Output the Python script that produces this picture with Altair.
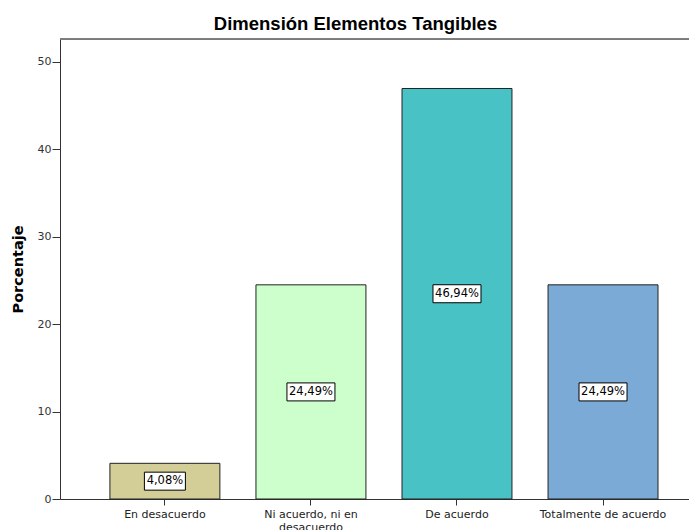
import altair as alt
import pandas as pd

categories = ["En desacuerdo", "Ni acuerdo, ni en desacuerdo", "De acuerdo", "Totalmente de acuerdo"]
values = [4.08, 24.49, 46.94, 24.49]
labels = ["4,08%", "24,49%", "46,94%", "24,49%"]
colors = ["#D3CE97", "#CCFFCC", "#48C2C5", "#7BAAD6"]
y_ticks = [0, 10, 20, 30, 40, 50]

df = pd.DataFrame({"cat": categories, "val": values, "lab": labels})

W, H = 629, 460
FONT = "DejaVu Sans"
TFONT = "Liberation Sans"

x_enc = alt.X(
    "cat:N",
    sort=categories,
    scale=alt.Scale(paddingInner=0.247, paddingOuter=0.277, align=0.617),
    axis=alt.Axis(
        title=None,
        labelAngle=0,
        labelFontSize=11,
        labelFont=FONT,
        labelColor="#222",
        labelPadding=3,
        labelLineHeight=13,
        labelExpr="datum.label == 'Ni acuerdo, ni en desacuerdo' ? ['Ni acuerdo, ni en', 'desacuerdo'] : datum.label",
        tickSize=6,
        tickColor="#333",
        domainColor="#333",
        labelOverlap=False,
    ),
)

y_scale = alt.Scale(domain=[0, 52.6], nice=False)

bars = alt.Chart(df).mark_bar(stroke="#222", strokeWidth=1).encode(
    x=x_enc,
    y=alt.Y(
        "val:Q",
        scale=y_scale,
        axis=alt.Axis(
            title="Porcentaje",
            values=y_ticks,
            grid=False,
            labelFontSize=11,
            labelFont=FONT,
            labelColor="#333",
            tickSize=8,
            tickColor="#333",
            domainColor="#333",
            labelPadding=1,
            titleFont=FONT,
            titleFontSize=14.5,
            titleFontWeight="bold",
            titleColor="#000",
            titlePadding=12,
        ),
    ),
    color=alt.Color("cat:N", scale=alt.Scale(domain=categories, range=colors), legend=None),
)

boxes = alt.Chart(df).transform_calculate(
    mid="datum.val / 2", bw="length(datum.lab) * 7 + 6"
).mark_tick(thickness=18, fill="white", stroke="black", strokeWidth=1, opacity=1).encode(
    x=alt.X("cat:N", sort=categories),
    y=alt.Y("mid:Q", scale=y_scale),
    size=alt.Size("bw:Q", scale=None),
)

texts = alt.Chart(df).transform_calculate(mid="datum.val / 2").mark_text(
    font=FONT, fontSize=11.5, color="black", baseline="middle", align="center"
).encode(
    x=alt.X("cat:N", sort=categories),
    y=alt.Y("mid:Q", scale=y_scale),
    text="lab:N",
)

top_border = alt.Chart(df).mark_rule(color="#777", strokeWidth=1).encode(
    x=alt.value(0), x2=alt.value(W), y=alt.value(0)
)

chart = alt.layer(bars, boxes, texts, top_border).properties(
    width=W,
    height=H,
    title=alt.TitleParams(
        "Dimensión Elementos Tangibles",
        font=TFONT,
        fontSize=18.5,
        fontWeight="bold",
        color="#000",
        anchor="middle",
        dx=-19,
        dy=18,
        offset=8,
        baseline="alphabetic",
    ),
    autosize=alt.AutoSizeParams(type="none"),
    padding={"left": 52, "top": 31, "right": 0, "bottom": 31},
).configure_view(
    fill="#F0F0F0", stroke=None
).configure(background="white")

chart.save("out.html", embed_options={"renderer": "svg", "actions": False})
